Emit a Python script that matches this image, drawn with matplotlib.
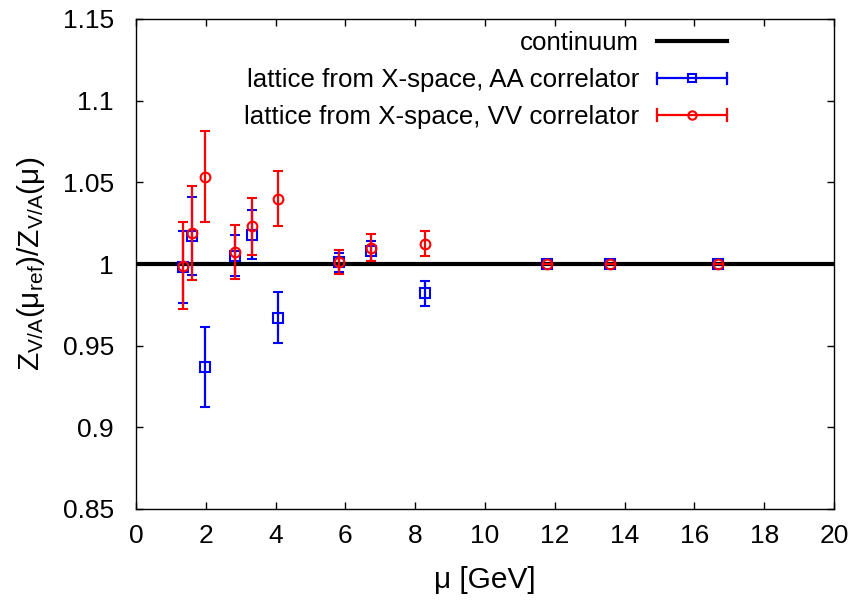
import numpy as np
import matplotlib
matplotlib.use("Agg")
import matplotlib.pyplot as plt
from matplotlib.legend_handler import HandlerBase
from matplotlib.lines import Line2D

plt.rcParams['font.family'] = ['Liberation Sans', 'DejaVu Sans']
plt.rcParams['mathtext.fontset'] = 'custom'
plt.rcParams['mathtext.rm'] = 'Liberation Sans'
plt.rcParams['mathtext.it'] = 'Liberation Sans'

# Data
mu_aa = [1.35, 1.60, 1.98, 2.85, 3.31, 4.08, 5.82, 6.72, 8.28, 11.77, 13.58, 16.68]
z_aa = [0.998, 1.017, 0.937, 1.005, 1.018, 0.967, 1.001, 1.008, 0.982, 1.000, 1.000, 1.000]
e_aa = [0.022, 0.024, 0.0245, 0.0125, 0.015, 0.0156, 0.006, 0.006, 0.0075, 0.0, 0.0, 0.0]

mu_vv = [1.35, 1.60, 1.98, 2.85, 3.31, 4.08, 5.82, 6.72, 8.28, 11.77, 13.58, 16.68]
z_vv = [0.999, 1.019, 1.0535, 1.0075, 1.023, 1.040, 1.0014, 1.010, 1.0124, 1.000, 1.000, 1.000]
e_vv = [0.0268, 0.0286, 0.028, 0.0165, 0.0173, 0.0168, 0.0073, 0.0083, 0.0076, 0.0, 0.0, 0.0]

continuum_x = [0, 20]
continuum_y = [1.0, 1.0]

xticks = np.arange(0, 21, 2)
yticks = [0.85, 0.9, 0.95, 1.0, 1.05, 1.1, 1.15]
yticklabels = ['0.85', '0.9', '0.95', '1', '1.05', '1.1', '1.15']

FS = 19
LFS = 21.5

fig = plt.figure(figsize=(8.55, 6.01), dpi=100)
ax = fig.add_axes([136/855, 1 - 509/601, (834 - 136)/855, (509 - 19)/601])

ax.plot(continuum_x, continuum_y, color='black', lw=3, zorder=1, label='continuum')
ax.errorbar(mu_aa, z_aa, yerr=e_aa, fmt='s', color='blue', mfc='none', mec='blue',
            ms=6.5, mew=1.5, elinewidth=1.6, capsize=3.6, capthick=1.6, zorder=2)
ax.errorbar(mu_vv, z_vv, yerr=e_vv, fmt='o', color='red', mfc='none', mec='red',
            ms=7, mew=1.5, elinewidth=1.6, capsize=3.6, capthick=1.6, zorder=3)

ax.set_xlim(0, 20)
ax.set_ylim(0.85, 1.15)
ax.set_xticks(xticks)
ax.set_yticks(yticks)
ax.set_yticklabels(yticklabels)
ax.tick_params(direction='in', top=True, right=True, length=5, width=1, labelsize=FS)
ax.tick_params(axis='x', pad=11)
ax.tick_params(axis='y', pad=16)
for s in ax.spines.values():
    s.set_linewidth(1)

ax.set_xlabel('μ [GeV]', fontsize=LFS)
ax.set_ylabel(r'$\mathrm{Z_{V/A}(μ_{ref})/Z_{V/A}(μ)}$', fontsize=LFS)
ax.xaxis.set_label_coords(0.5, -0.117)
ax.yaxis.set_label_coords(-0.128, 0.5)


class HErrHandler(HandlerBase):
    def __init__(self, color, marker, **kw):
        super().__init__(**kw)
        self.color = color
        self.marker = marker

    def create_artists(self, legend, orig_handle, xdescent, ydescent, width, height, fontsize, trans):
        y = (height - ydescent) / 2
        x0, x1 = -xdescent, -xdescent + width
        cap = 4.0
        arts = [Line2D([x0, x1], [y, y], color=self.color, lw=1.6),
                Line2D([x0, x0], [y - cap, y + cap], color=self.color, lw=1.6),
                Line2D([x1, x1], [y - cap, y + cap], color=self.color, lw=1.6),
                Line2D([(x0 + x1) / 2], [y], marker=self.marker, color=self.color,
                       mfc='none', ms=6, mew=1.5, ls='none')]
        for a in arts:
            a.set_transform(trans)
        return arts


h_cont = Line2D([], [], color='black', lw=3)
h_aa = Line2D([], [], color='blue')
h_vv = Line2D([], [], color='red')
ax.legend([h_cont, h_aa, h_vv],
          ['continuum', 'lattice from X-space, AA correlator', 'lattice from X-space, VV correlator'],
          handler_map={h_aa: HErrHandler('blue', 's'), h_vv: HErrHandler('red', 'o')},
          loc='upper right', bbox_to_anchor=(0.847, 0.975), frameon=False,
          markerfirst=False, handlelength=2.7, fontsize=18.6, labelspacing=0.5,
          handletextpad=0.7, borderpad=0.0, borderaxespad=0.0)

fig.savefig('out.png', dpi=100)
